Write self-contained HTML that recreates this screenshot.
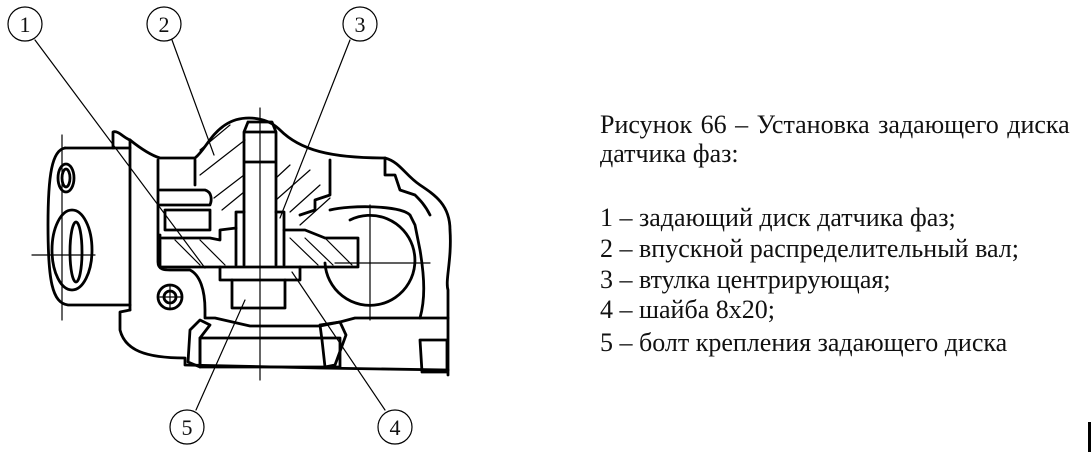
<!DOCTYPE html>
<html><head><meta charset="utf-8"><style>
html,body{margin:0;padding:0;background:#fff;width:1092px;height:452px;overflow:hidden;position:relative}
svg{position:absolute;left:0;top:0}
.t{position:absolute;left:600px;font-family:"Liberation Serif",serif;font-size:26px;color:#111;white-space:nowrap;line-height:1}
</style></head><body>
<svg width="480" height="452" viewBox="0 0 480 452" fill="none" stroke="#000" stroke-linecap="round" stroke-linejoin="round">
<g stroke-width="2.8">
<path d="M65,148 C52,150 48,175 48,225 C48,280 52,303 68,305 L130,305"/>
<path d="M65,148 L130,148"/>
<path d="M113,148 L113,132 C118,130 124,138 130,140"/>
<path d="M130,140 L130,310"/>
<ellipse cx="66" cy="178" rx="8" ry="14"/>
<ellipse cx="66" cy="178" rx="4" ry="9"/>
<ellipse cx="72" cy="250" rx="20" ry="40"/>
<ellipse cx="76" cy="252" rx="6" ry="30"/>
<path d="M130,140 C140,148 150,155 160,158 L195,158 C205,150 210,135 225,125 C240,115 265,115 280,130 C300,150 330,158 385,158 C400,162 405,175 420,185 C435,195 450,205 450,230 C452,260 445,280 448,290 L448,320 L448,375"/>
<path d="M130,310 L120,312 L120,330 C125,350 145,358 185,358 L185,365 L320,368 L448,370"/>
<path d="M158,160 L158,262 C158,270 165,270 170,270 L190,270 C200,275 205,290 205,310 L205,318 L215,318 L250,326 L320,326 L340,322 L355,318 L440,318 L448,318"/>
<path d="M195,160 L195,185"/>
<path d="M385,158 L385,175 L395,175 L400,190 L415,195 C420,200 425,205 430,215"/>
<path d="M330,160 L330,195 L315,200 L315,210 L300,215"/>
<path d="M160,190 L205,190 C212,192 212,200 210,205 L160,205"/>
<path d="M165,210 L210,210 L210,230 L165,230 Z"/>
<path d="M162,238 L210,238 L220,240 L220,230 L236,228"/>
<path d="M160,235 L160,267 L358,267 L358,238 L325,238 L305,230 L284,230"/>
<path d="M244,132 L244,265 M276,132 L276,265 M244,132 L276,132 M248,122 L272,122 L276,132 M248,122 L244,132 M244,162 L276,162"/>
<path d="M236,212 L236,265 M244,212 L236,212 M284,212 L284,265 M276,212 L284,212"/>
<path d="M220,267 L220,280 L300,280 L300,267"/>
<path d="M232,280 L232,308 L285,308 L285,280"/>
<path d="M200,338 L340,338 L340,367 L200,367 Z"/>
<path d="M190,330 L200,320 L210,325 L200,338 L200,367 L188,362 Z"/>
<path d="M320,325 L340,322 L346,335 L335,365 L325,367 L322,340 Z"/>
<path d="M325,263 A45,45 0 1,0 350,220"/>
<path d="M330,210 C350,205 400,205 410,215 L415,225 L420,250 C425,280 425,300 420,318"/>
<path d="M420,340 L447,340 L447,372 L422,372 Z"/>
<circle cx="170" cy="297" r="12"/>
<circle cx="170" cy="297" r="6"/>
</g>
<g stroke-width="1.2">
<path d="M200,150 L230,125 M200,175 L245,140 M214,198 L244,175 M222,210 L244,192 M276,178 L290,165 M276,200 L310,170 M290,212 L320,185 M300,225 L330,198"/>
<path d="M175,240 L200,265 M200,240 L225,265 M290,238 L318,265 M305,238 L333,265 M325,238 L352,265"/>
<path d="M260,108 L260,380 M32,255 L95,255 M62,135 L62,320 M335,263 L430,263 M370,205 L370,320 M160,297 L182,297 M170,285 L170,309"/>
<path d="M35,40 L205,268 M172,40 L214,155 M350,40 L280,218 M196,410 L245,300 M385,410 L292,272"/>
</g>
<g stroke-width="1.2">
<circle cx="25" cy="24" r="17"/><circle cx="164" cy="24" r="17"/><circle cx="360" cy="24" r="17"/>
<circle cx="187" cy="427" r="17"/><circle cx="395" cy="427" r="17"/>
</g>
<g font-family="Liberation Serif,serif" font-size="22" fill="#111" stroke="none" text-anchor="middle">
<text x="25" y="32">1</text><text x="164" y="32">2</text><text x="360" y="32">3</text>
<text x="187" y="435">5</text><text x="395" y="435">4</text>
</g>
</svg>
<div class="t" style="top:112px;word-spacing:2px">Рисунок 66 – Установка задающего диска</div>
<div class="t" style="top:141px">датчика фаз:</div>
<div class="t" style="top:205px">1 – задающий диск датчика фаз;</div>
<div class="t" style="top:236px">2 – впускной распределительный вал;</div>
<div class="t" style="top:267px">3 – втулка центрирующая;</div>
<div class="t" style="top:297px">4 – шайба 8х20;</div>
<div class="t" style="top:330px">5 – болт крепления задающего диска</div>
<div style="position:absolute;left:1088px;top:422px;width:3px;height:30px;background:#000"></div>
</body></html>
